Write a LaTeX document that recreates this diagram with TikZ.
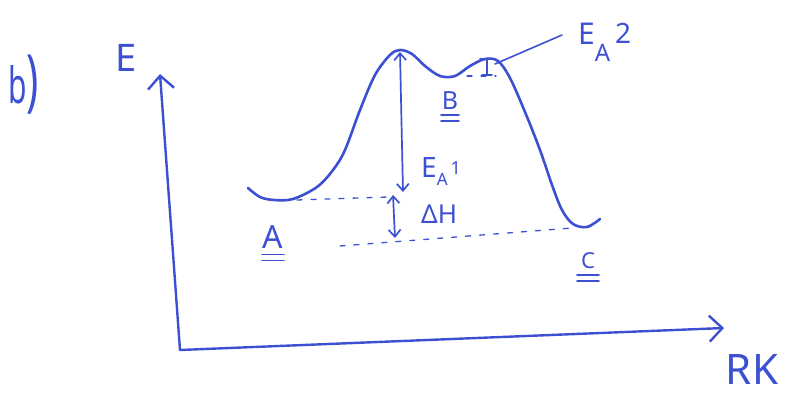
\documentclass[tikz,border=0pt]{standalone}
\usepackage{fontspec}
\setmainfont{Noto Sans}
\usetikzlibrary{arrows.meta}
\definecolor{ink}{RGB}{60,80,210}
\begin{document}
\begin{tikzpicture}[x=1pt,y=-1pt,line cap=round,line join=round,
  curve/.style={draw=ink,line width=2.6pt},
  axis/.style={draw=ink,line width=2.4pt,-{Straight Barb[length=13pt,width=26pt,line width=2.4pt]}},
  arr/.style={draw=ink,line width=1.7pt,{Straight Barb[length=7pt,width=12pt,line width=1.7pt]}-{Straight Barb[length=7pt,width=12pt,line width=1.7pt]}},
  guide/.style={draw=ink,line width=1.3pt,dash pattern=on 5pt off 9pt},
  thin/.style={draw=ink,line width=1.6pt},
  lbl/.style={text=ink,inner sep=0pt}]
\useasboundingbox (0,0) rectangle (786,398);
% axes
\coordinate (O) at (180,350);
\coordinate (Ytip) at (160,74);
\coordinate (Xtip) at (724,328);
\draw[axis] (O) -- (Ytip);
\draw[axis] (O) -- (Xtip);
% energy curve
\draw[curve] plot[smooth,tension=0.55] coordinates {(248,188) (260,197) (274,200) (293,199) (317,187) (333,170) (345,150) (360,110) (375,75) (390,55) (400,50) (412,54) (425,66) (440,76) (455,76) (470,66) (485,59) (498,61) (510,78) (525,112) (540,150) (552,185) (562,210) (573,224) (587,227) (600,219)};
% key points
\coordinate (P) at (400,52);
\coordinate (EA1b) at (403,192);
\coordinate (Ad1) at (297,200);
\coordinate (Ad2) at (388,197);
\coordinate (H1) at (393,195);
\coordinate (H2) at (395,238);
\coordinate (Cd1) at (340,246);
\coordinate (Cd2) at (572,228);
\coordinate (Bd1) at (467,76);
\coordinate (Bd2) at (496,76);
\coordinate (It) at (487,59);
\coordinate (Ib) at (487,75);
\coordinate (L1) at (495,64);
\coordinate (L2) at (562,35);
% guides
\draw[guide] (Ad1) -- (Ad2);
\draw[guide] (Cd1) -- (Cd2);
\draw[guide] (Bd1) -- (Bd2);
% arrows
\draw[arr] (P) -- (EA1b);
\draw[arr] (H1) -- (H2);
% EA2 bar
\draw[thin] (It) -- (Ib);
\draw[thin] ([xshift=-7pt]It) -- ([xshift=7pt]It);
\draw[thin] ([xshift=-5pt]Ib) -- ([xshift=5pt]Ib);
\draw[thin] (L1) -- (L2);
% labels
\node[lbl,anchor=base west,xscale=0.6] (b) at (8,104) {\fontsize{50}{50}\selectfont b\fontsize{68}{68}\selectfont )};
\node[lbl] (E) at (126,58) {\fontsize{38}{38}\selectfont E};
\node[lbl,anchor=base] (RK) at (752,384) {\fontsize{42}{42}\selectfont RK};
\node[lbl,anchor=base west] (ea1) at (421,178) {\fontsize{28}{28}\selectfont E\raisebox{-8pt}{\fontsize{17}{17}\selectfont A}\hspace{3pt}\raisebox{3pt}{\fontsize{18}{18}\selectfont 1}};
\node[lbl,anchor=base west] (dH) at (421,223) {\fontsize{26}{26}\selectfont ΔH};
\node[lbl,anchor=base west] (ea2) at (578,45) {\fontsize{30}{30}\selectfont E\raisebox{-17pt}{\fontsize{24}{24}\selectfont A}\hspace{5pt}\raisebox{1pt}{\fontsize{28}{28}\selectfont 2}};
\node[lbl] (A) at (273,237) {\fontsize{32}{32}\selectfont A};
\node[lbl] (B) at (450,101) {\fontsize{25}{25}\selectfont B};
\node[lbl] (C) at (588,261) {\fontsize{22}{22}\selectfont C};
% double underlines
\foreach \n/\d/\w in {A/6/11, B/5/9, C/6/11}{
  \draw[thin] ([xshift=-\w pt,yshift=-\d pt]\n.south) -- ([xshift=\w pt,yshift=-\d pt]\n.south);
  \draw[thin] ([xshift=-\w pt,yshift=-\d pt-6pt]\n.south) -- ([xshift=\w pt,yshift=-\d pt-6pt]\n.south);
}
\end{tikzpicture}
\end{document}
